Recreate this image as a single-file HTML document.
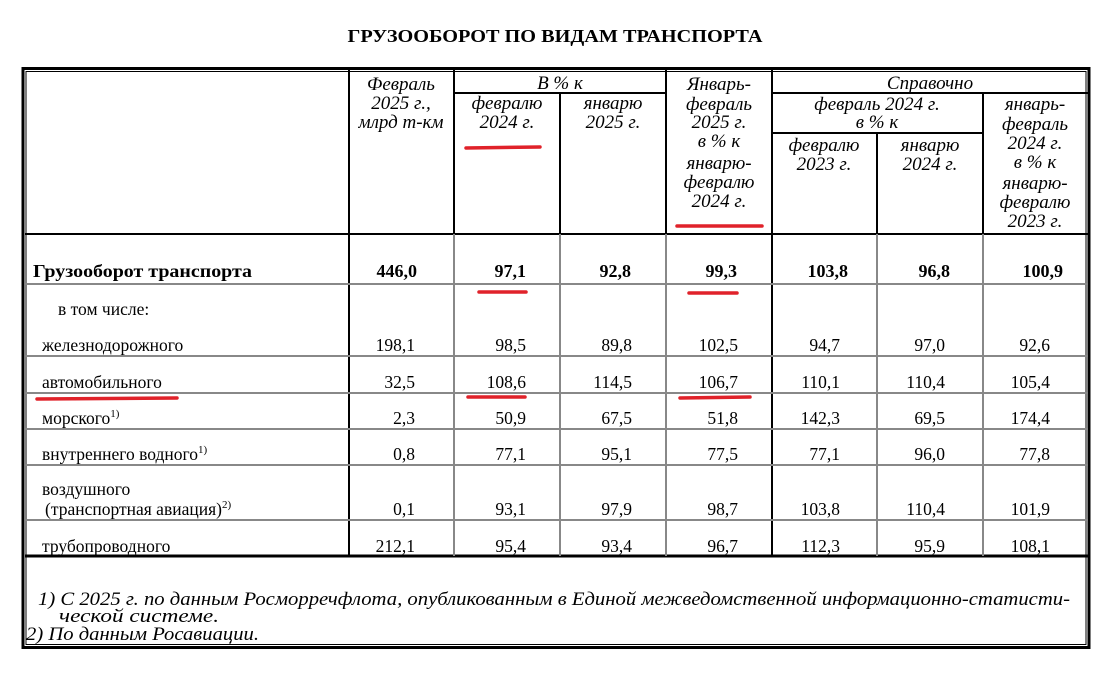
<!DOCTYPE html>
<html><head><meta charset="utf-8"><style>
html,body{margin:0;padding:0;background:#fff;}
svg{display:block;}
text{font-family:"Liberation Serif",serif;fill:#000;}
.h{font-style:italic;font-size:19px;text-anchor:middle;}
.b{font-size:17.5px;}
.n{font-size:17.5px;text-anchor:end;}
.bn{font-size:18px;font-weight:bold;text-anchor:end;}
.f{font-style:italic;font-size:19px;}
</style></head><body>
<svg width="1108" height="673" viewBox="0 0 1108 673" xmlns="http://www.w3.org/2000/svg">
<rect width="1108" height="673" fill="#fff"/>
<text x="555" y="42" text-anchor="middle" font-weight="bold" font-size="18" textLength="415" lengthAdjust="spacingAndGlyphs">ГРУЗООБОРОТ ПО ВИДАМ ТРАНСПОРТА</text>

<rect x="23" y="68.5" width="1066" height="579" fill="none" stroke="#000" stroke-width="3"/>
<rect x="26" y="71.5" width="1060" height="573" fill="none" stroke="#000" stroke-width="1"/>

<g stroke="#000" stroke-width="2">
<line x1="349" y1="70" x2="349" y2="556"/>
<line x1="454" y1="70" x2="454" y2="234"/>
<line x1="666" y1="70" x2="666" y2="234"/>
<line x1="772" y1="70" x2="772" y2="556"/>
<line x1="560" y1="93" x2="560" y2="234"/>
<line x1="877" y1="133" x2="877" y2="234"/>
<line x1="983" y1="93" x2="983" y2="234"/>
<line x1="454" y1="93" x2="666" y2="93"/>
<line x1="772" y1="93" x2="1088" y2="93"/>
<line x1="772" y1="133" x2="983" y2="133"/>
<line x1="25" y1="234" x2="1088" y2="234"/>
<line x1="25" y1="556" x2="1088" y2="556" stroke-width="3"/>
</g>
<g stroke="#888" stroke-width="2">
<line x1="454" y1="234" x2="454" y2="556"/>
<line x1="560" y1="234" x2="560" y2="556"/>
<line x1="666" y1="234" x2="666" y2="556"/>
<line x1="877" y1="234" x2="877" y2="556"/>
<line x1="983" y1="234" x2="983" y2="556"/>
<line x1="25" y1="284" x2="1088" y2="284"/>
<line x1="25" y1="356" x2="1088" y2="356"/>
<line x1="25" y1="393" x2="1088" y2="393"/>
<line x1="25" y1="429" x2="1088" y2="429"/>
<line x1="25" y1="465" x2="1088" y2="465"/>
<line x1="25" y1="520" x2="1088" y2="520"/>
</g>

<text class="h" x="401" y="90">Февраль</text>
<text class="h" x="401" y="109">2025 г.,</text>
<text class="h" x="401" y="128">млрд т-км</text>
<text class="h" x="560" y="89">В % к</text>
<text class="h" x="507" y="109">февралю</text>
<text class="h" x="507" y="128">2024 г.</text>
<text class="h" x="613" y="109">январю</text>
<text class="h" x="613" y="128">2025 г.</text>
<text class="h" x="719" y="90">Январь-</text>
<text class="h" x="719" y="110">февраль</text>
<text class="h" x="719" y="128">2025 г.</text>
<text class="h" x="719" y="147">в % к</text>
<text class="h" x="719" y="169">январю-</text>
<text class="h" x="719" y="188">февралю</text>
<text class="h" x="719" y="207">2024 г.</text>
<text class="h" x="930" y="89">Справочно</text>
<text class="h" x="877" y="110">февраль 2024 г.</text>
<text class="h" x="877" y="128">в % к</text>
<text class="h" x="824" y="151">февралю</text>
<text class="h" x="824" y="170">2023 г.</text>
<text class="h" x="930" y="151">январю</text>
<text class="h" x="930" y="170">2024 г.</text>
<text class="h" x="1035" y="110">январь-</text>
<text class="h" x="1035" y="130">февраль</text>
<text class="h" x="1035" y="149">2024 г.</text>
<text class="h" x="1035" y="168">в % к</text>
<text class="h" x="1035" y="189">январю-</text>
<text class="h" x="1035" y="208">февралю</text>
<text class="h" x="1035" y="227">2023 г.</text>

<text x="33" y="277" font-size="18" font-weight="bold" textLength="219" lengthAdjust="spacingAndGlyphs">Грузооборот транспорта</text>
<text class="bn" x="417" y="277">446,0</text>
<text class="bn" x="526" y="277">97,1</text>
<text class="bn" x="631" y="277">92,8</text>
<text class="bn" x="737" y="277">99,3</text>
<text class="bn" x="848" y="277">103,8</text>
<text class="bn" x="950" y="277">96,8</text>
<text class="bn" x="1063" y="277">100,9</text>
<text class="b" x="58" y="315">в том числе:</text>

<text class="b" x="42" y="351">железнодорожного</text>
<text class="b" x="42" y="388">автомобильного</text>
<text class="b" x="42" y="424">морского<tspan font-size="11" dy="-7">1)</tspan></text>
<text class="b" x="42" y="460">внутреннего водного<tspan font-size="11" dy="-7">1)</tspan></text>
<text class="b" x="42" y="495">воздушного</text>
<text class="b" x="45" y="515">(транспортная авиация)<tspan font-size="11" dy="-7">2)</tspan></text>
<text class="b" x="42" y="552">трубопроводного</text>

<g>
<text class="n" x="415" y="351">198,1</text><text class="n" x="526" y="351">98,5</text><text class="n" x="632" y="351">89,8</text><text class="n" x="738" y="351">102,5</text><text class="n" x="840" y="351">94,7</text><text class="n" x="945" y="351">97,0</text><text class="n" x="1050" y="351">92,6</text>
<text class="n" x="415" y="388">32,5</text><text class="n" x="526" y="388">108,6</text><text class="n" x="632" y="388">114,5</text><text class="n" x="738" y="388">106,7</text><text class="n" x="840" y="388">110,1</text><text class="n" x="945" y="388">110,4</text><text class="n" x="1050" y="388">105,4</text>
<text class="n" x="415" y="424">2,3</text><text class="n" x="526" y="424">50,9</text><text class="n" x="632" y="424">67,5</text><text class="n" x="738" y="424">51,8</text><text class="n" x="840" y="424">142,3</text><text class="n" x="945" y="424">69,5</text><text class="n" x="1050" y="424">174,4</text>
<text class="n" x="415" y="460">0,8</text><text class="n" x="526" y="460">77,1</text><text class="n" x="632" y="460">95,1</text><text class="n" x="738" y="460">77,5</text><text class="n" x="840" y="460">77,1</text><text class="n" x="945" y="460">96,0</text><text class="n" x="1050" y="460">77,8</text>
<text class="n" x="415" y="515">0,1</text><text class="n" x="526" y="515">93,1</text><text class="n" x="632" y="515">97,9</text><text class="n" x="738" y="515">98,7</text><text class="n" x="840" y="515">103,8</text><text class="n" x="945" y="515">110,4</text><text class="n" x="1050" y="515">101,9</text>
<text class="n" x="415" y="552">212,1</text><text class="n" x="526" y="552">95,4</text><text class="n" x="632" y="552">93,4</text><text class="n" x="738" y="552">96,7</text><text class="n" x="840" y="552">112,3</text><text class="n" x="945" y="552">95,9</text><text class="n" x="1050" y="552">108,1</text>
</g>

<text class="f" x="38" y="605" textLength="1032" lengthAdjust="spacingAndGlyphs">1) С 2025 г. по данным Росморречфлота, опубликованным в Единой межведомственной информационно-статисти-</text>
<text class="f" x="59" y="622" textLength="160" lengthAdjust="spacingAndGlyphs">ческой системе.</text>
<text class="f" x="26" y="640" textLength="233" lengthAdjust="spacingAndGlyphs">2) По данным Росавиации.</text>

<g stroke="#e0222a" stroke-width="3.5" stroke-linecap="round">
<line x1="466" y1="148" x2="540" y2="147"/>
<line x1="677" y1="226" x2="762" y2="226"/>
<line x1="479" y1="292" x2="526" y2="292"/>
<line x1="689" y1="293" x2="737" y2="293"/>
<line x1="37" y1="399" x2="177" y2="398"/>
<line x1="468" y1="397" x2="525" y2="397"/>
<line x1="680" y1="398" x2="750" y2="397"/>
</g>
</svg>
</body></html>
